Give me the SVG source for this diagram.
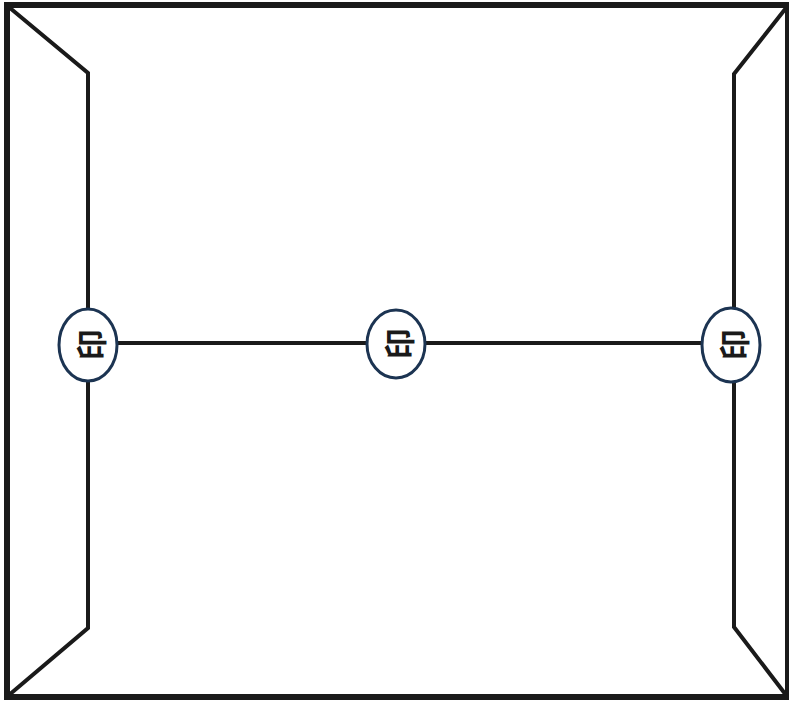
<svg xmlns="http://www.w3.org/2000/svg" width="789" height="704" viewBox="0 0 789 704">
<style>
.edge{fill:none;stroke:#1a1a1a;stroke-width:4;stroke-linejoin:miter}
.seal{fill:#ffffff;stroke:#1c3452;stroke-width:3}
.mark{font-family:"Noto Sans CJK JP","Noto Sans CJK SC",sans-serif;font-size:31px;font-weight:bold;fill:#1a1a1a;text-anchor:middle;dominant-baseline:central}
</style>
<rect width="789" height="704" fill="#ffffff"/>
<g id="envelope">
<rect x="7" y="5" width="781" height="692" fill="none" stroke="#1a1a1a" stroke-width="6"/>
<polyline class="edge" points="10,8 88,73 88,628 9,695"/>
<polyline class="edge" points="786,8 734,74 734,627 786,695"/>
</g>
<g id="connectors">
<line class="edge" x1="88" y1="343" x2="731" y2="343" stroke-width="3.5"/>
</g>
<g id="seal-left">
<ellipse class="seal" cx="88" cy="345" rx="29" ry="36"/>
<text class="mark" transform="translate(89,345) rotate(-90)">印</text>
</g>
<g id="seal-center">
<ellipse class="seal" cx="396" cy="344" rx="29" ry="34"/>
<text class="mark" transform="translate(397,344) rotate(-90)">印</text>
</g>
<g id="seal-right">
<ellipse class="seal" cx="731" cy="345" rx="29" ry="37"/>
<text class="mark" transform="translate(732,345) rotate(-90)">印</text>
</g>
</svg>
